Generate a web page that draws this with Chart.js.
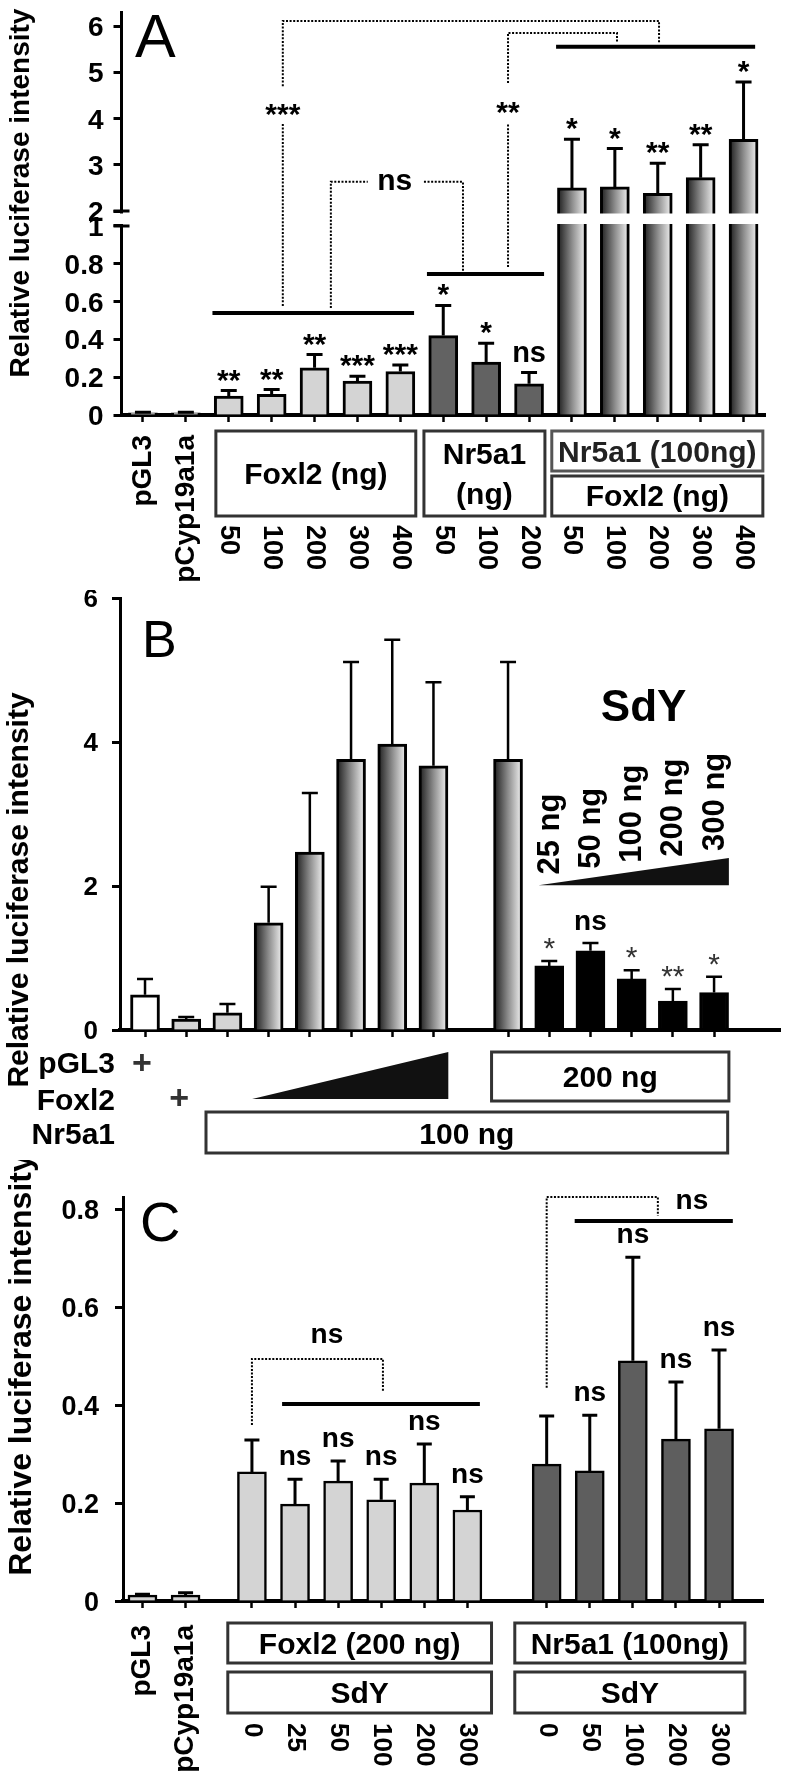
<!DOCTYPE html>
<html>
<head>
<meta charset="utf-8">
<title>Cyp19a1a promoter luciferase assays</title>
<script src="https://cdn.jsdelivr.net/npm/chart.js@4.4.1/dist/chart.umd.min.js"></script>
<style>
  body { margin: 0; background: #fff; }
  #fig { position: relative; width: 785px; height: 1785px; overflow: hidden; }
  #fig canvas { position: absolute; left: 0; }
</style>
</head>
<body>
<div id="fig">
  <canvas id="panelA" width="785" height="600" style="top:0"></canvas>
  <canvas id="panelB" width="785" height="570" style="top:590px"></canvas>
  <canvas id="panelC" width="785" height="625" style="top:1160px"></canvas>
</div>
<script>
// ---- Panel A: Foxl2 / Nr5a1 dose response ----
const aCtrlLabels = ['pGL3', 'pCyp19a1a'];
const aCtrlMean = [0.012, 0.012];
const aCtrlSem = [0.003, 0.003];

const aFoxl2Doses = ['50', '100', '200', '300', '400'];
const aFoxl2Mean = [0.10, 0.11, 0.25, 0.18, 0.23];
const aFoxl2Sem = [0.03, 0.025, 0.07, 0.025, 0.035];
const aFoxl2Sig = ['**', '**', '**', '***', '***'];

const aNr5a1Doses = ['50', '100', '200'];
const aNr5a1Mean = [0.42, 0.28, 0.165];
const aNr5a1Sem = [0.16, 0.10, 0.06];
const aNr5a1Sig = ['*', '*', 'ns'];

const aComboDoses = ['50', '100', '200', '300', '400'];
const aComboMean = [2.50, 2.52, 2.38, 2.72, 3.55];
const aComboSem = [1.05, 0.83, 0.65, 0.71, 1.24];
const aComboSig = ['*', '*', '**', '**', '*'];

const aYTicks = [0, 0.2, 0.4, 0.6, 0.8, 1, 2, 3, 4, 5, 6];
const aYTickLabels = ['0', '0.2', '0.4', '0.6', '0.8', '1', '2', '3', '4', '5', '6'];

// ---- Panel B: SdY titration ----
const bCtrlMean = [0.49, 0.15, 0.24];      // pGL3, Foxl2, Nr5a1
const bCtrlSem = [0.22, 0.03, 0.12];
const bRampMean = [1.49, 2.47, 3.76, 3.97, 3.67];
const bRampSem = [0.50, 0.82, 1.35, 1.45, 1.16];
const bFixedMean = [3.76];
const bFixedSem = [1.35];
const bSdyDoses = ['25 ng', '50 ng', '100 ng', '200 ng', '300 ng'];
const bSdyMean = [0.89, 1.10, 0.71, 0.40, 0.52];
const bSdySem = [0.07, 0.11, 0.12, 0.17, 0.22];
const bSdySig = ['*', 'ns', '*', '**', '*'];
const bYTicks = [0, 2, 4, 6];

// ---- Panel C: SdY with Foxl2 or Nr5a1 alone ----
const cCtrlLabels = ['pGL3', 'pCyp19a1a'];
const cCtrlMean = [0.012, 0.012];
const cCtrlSem = [0.002, 0.005];
const cFoxl2Doses = ['0', '25', '50', '100', '200', '300'];
const cFoxl2Mean = [0.264, 0.198, 0.245, 0.207, 0.241, 0.186];
const cFoxl2Sem = [0.065, 0.051, 0.041, 0.042, 0.080, 0.027];
const cFoxl2Sig = ['', 'ns', 'ns', 'ns', 'ns', 'ns'];
const cNr5a1Doses = ['0', '50', '100', '200', '300'];
const cNr5a1Mean = [0.280, 0.266, 0.491, 0.331, 0.352];
const cNr5a1Sem = [0.098, 0.114, 0.212, 0.117, 0.161];
const cNr5a1Sig = ['', 'ns', 'ns', 'ns', 'ns'];
const cYTicks = [0, 0.2, 0.4, 0.6, 0.8];
const cYTickLabels = ['0', '0.2', '0.4', '0.6', '0.8'];

// ---- styling ----
const FONT = '"Liberation Sans", Arial, Helvetica, sans-serif';
const LIGHT = '#d4d4d4';
const DARK = '#626262';
Chart.defaults.font.family = FONT;

// broken axis in panel A: 0-1 full size, 2-6 compressed above a gap
const aGap = 15 / 189;
const aUpper = 46.25 / 189;
const aY = v => (v <= 1 ? v : 1 + aGap + (v - 2) * aUpper);
const same = v => v;

function font(size, weight) {
  return (weight || 'bold') + ' ' + size + 'px ' + FONT;
}

// text centred on its visible glyphs
function text(ctx, str, x, cy, size, opts = {}) {
  ctx.save();
  ctx.font = font(size, opts.weight);
  ctx.fillStyle = opts.color || '#000';
  ctx.textAlign = opts.align || 'center';
  ctx.textBaseline = 'alphabetic';
  let lift = 0.36;
  if (/^\*+$/.test(str)) lift = 0.57;
  else if (/^[a-z]+$/.test(str)) lift = 0.26;
  ctx.fillText(str, x, cy + lift * size);
  ctx.restore();
}

// rotated text; dir -1 reads upwards, +1 reads downwards
function vtext(ctx, str, x, y, size, dir, align, weight) {
  ctx.save();
  ctx.translate(x, y);
  ctx.rotate(dir * Math.PI / 2);
  ctx.font = font(size, weight);
  ctx.fillStyle = '#000';
  ctx.textAlign = align;
  ctx.textBaseline = 'middle';
  ctx.fillText(str, 0, 0);
  ctx.restore();
}

function line(ctx, pts, lw, dotted) {
  ctx.save();
  ctx.lineWidth = lw;
  ctx.strokeStyle = '#000';
  ctx.setLineDash(dotted ? [2, 1.6] : []);
  ctx.beginPath();
  pts.forEach((p, i) => (i ? ctx.lineTo(p[0], p[1]) : ctx.moveTo(p[0], p[1])));
  ctx.stroke();
  ctx.restore();
}

function box(ctx, x1, y1, x2, y2, color) {
  ctx.save();
  ctx.lineWidth = 3;
  ctx.strokeStyle = color || '#333';
  ctx.strokeRect(x1, y1, x2 - x1, y2 - y1);
  ctx.restore();
}

function tri(ctx, pts) {
  ctx.save();
  ctx.fillStyle = '#111';
  ctx.beginPath();
  pts.forEach((p, i) => (i ? ctx.lineTo(p[0], p[1]) : ctx.moveTo(p[0], p[1])));
  ctx.closePath();
  ctx.fill();
  ctx.restore();
}

// groups side by side on a linear x axis, extra gap (in bar slots) before a group
function lay(groups) {
  const bars = [];
  let x = 0;
  groups.forEach(g => {
    x += g.gap || 0;
    g.mean.forEach((m, i) => {
      bars.push({
        x: x, mean: m, sem: g.sem[i],
        sig: g.sig ? g.sig[i] : '',
        fill: Array.isArray(g.fill) ? g.fill[i] : g.fill,
        group: g.name
      });
      x += 1;
    });
  });
  return bars;
}

function gradient(c, b) {
  const chart = c.chart;
  if (!chart.chartArea) return '#999';
  const cx = chart.scales.x.getPixelForValue(b.x);
  const g = chart.ctx.createLinearGradient(cx - 13, 0, cx + 13, 0);
  g.addColorStop(0, '#262626');
  g.addColorStop(0.5, '#8c8c8c');
  g.addColorStop(1, '#ebebeb');
  return g;
}

function errorBars(chart, bars, fy, lw, cap) {
  const ctx = chart.ctx;
  const meta = chart.getDatasetMeta(0);
  const Y = chart.scales.y;
  ctx.save();
  ctx.strokeStyle = '#000';
  ctx.lineWidth = lw;
  bars.forEach((b, i) => {
    const x = meta.data[i].x;
    const top = Y.getPixelForValue(fy(b.mean));
    const end = Y.getPixelForValue(fy(b.mean + b.sem));
    ctx.beginPath();
    ctx.moveTo(x, top);
    ctx.lineTo(x, end);
    ctx.moveTo(x - cap / 2, end);
    ctx.lineTo(x + cap / 2, end);
    ctx.stroke();
  });
  ctx.restore();
}

function barChart(id, cfg) {
  const canvas = document.getElementById(id);
  const bars = cfg.bars;
  const fy = cfg.fy || same;
  const area = cfg.area;
  return new Chart(canvas, {
    type: 'bar',
    data: {
      datasets: [{
        data: bars.map(b => ({ x: b.x, y: fy(b.mean) })),
        backgroundColor: c => {
          const b = bars[c.dataIndex];
          if (!b) return LIGHT;
          return b.fill === 'gradient' ? gradient(c, b) : b.fill;
        },
        borderColor: '#000',
        borderWidth: cfg.barBorder,
        barThickness: 29
      }]
    },
    options: {
      responsive: false,
      maintainAspectRatio: false,
      animation: false,
      devicePixelRatio: 1,
      layout: { padding: { top: area.top, right: canvas.width - area.right, left: 0, bottom: 0 } },
      plugins: { legend: { display: false }, tooltip: { enabled: false } },
      scales: {
        x: {
          type: 'linear',
          min: cfg.xMin,
          max: cfg.xMax,
          offset: false,
          z: 1,
          afterBuildTicks: s => { s.ticks = bars.map(b => ({ value: b.x })); },
          afterFit: s => { s.height = canvas.height - area.bottom; },
          ticks: { display: false },
          grid: { offset: false, drawOnChartArea: false, drawTicks: true, tickLength: 7, tickWidth: 2.5, tickColor: '#000' },
          border: { display: true, color: '#000', width: 4 }
        },
        y: {
          min: 0,
          max: cfg.yMax,
          afterBuildTicks: s => { s.ticks = cfg.yTicks.map(v => ({ value: fy(v) })); },
          afterFit: s => { s.width = area.left; },
          ticks: { display: false },
          grid: { drawOnChartArea: false, drawTicks: true, tickLength: 8, tickWidth: 3, tickColor: '#000' },
          border: { display: true, color: '#000', width: 3 }
        }
      }
    },
    plugins: [{ id: 'decor', afterDraw: chart => cfg.draw(chart, bars) }]
  });
}

// ---------------- Panel A ----------------
const barsA = lay([
  { name: 'ctrl', mean: aCtrlMean, sem: aCtrlSem, fill: LIGHT },
  { name: 'foxl2', mean: aFoxl2Mean, sem: aFoxl2Sem, sig: aFoxl2Sig, fill: LIGHT },
  { name: 'nr5a1', mean: aNr5a1Mean, sem: aNr5a1Sem, sig: aNr5a1Sig, fill: DARK },
  { name: 'combo', mean: aComboMean, sem: aComboSem, sig: aComboSig, fill: 'gradient' }
]);

barChart('panelA', {
  bars: barsA, fy: aY, yMax: 403 / 189, yTicks: aYTicks,
  xMin: -0.5, xMax: 14.5,
  area: { left: 121.5, top: 12, right: 765, bottom: 415 },
  barBorder: 3,
  draw: (chart, bars) => {
    const ctx = chart.ctx;
    const { left: L, right: R, bottom: B } = chart.chartArea;
    const px = s => chart.scales.x.getPixelForValue(s);
    const py = v => chart.scales.y.getPixelForValue(aY(v));

    // axis break
    const y1 = py(1), y2 = py(2);
    ctx.fillStyle = '#fff';
    ctx.fillRect(L - 4, y2 + 2.5, R - L + 12, y1 - y2 - 4.5);
    line(ctx, [[L - 8, y1], [L + 8, y1]], 3);
    line(ctx, [[L - 8, y2], [L + 8, y2]], 3);

    aYTicks.forEach((v, i) => text(ctx, aYTickLabels[i], L - 18, py(v), 28, { align: 'right' }));
    vtext(ctx, 'Relative luciferase intensity', 21, 193, 28, -1, 'center');
    ctx.font = font(61, 'normal');
    ctx.fillStyle = '#000';
    ctx.textAlign = 'left';
    ctx.textBaseline = 'alphabetic';
    ctx.fillText('A', 135, 57);

    errorBars(chart, bars, aY, 3, 16);
    bars.forEach(b => {
      if (b.sig) text(ctx, b.sig, px(b.x), py(b.mean + b.sem) - 18, b.sig === 'ns' ? 29 : 30);
    });

    // group bars and comparisons
    line(ctx, [[px(1.62), py(0.54)], [px(6.32), py(0.54)]], 4);
    line(ctx, [[px(6.62), py(0.746)], [px(9.35), py(0.746)]], 4);
    line(ctx, [[px(9.63), py(5.55)], [px(14.27), py(5.55)]], 4);
    const dot = pts => line(ctx, pts.map(([s, v]) => [px(s), py(v)]), 2, true);
    dot([[3.26, 0.577], [3.26, 3.92]]);
    text(ctx, '***', px(3.26), py(4.25), 30);
    dot([[3.26, 4.70], [3.26, 6.11], [12.03, 6.11], [12.03, 5.63]]);
    dot([[4.38, 0.566], [4.38, 2.63], [5.24, 2.63]]);
    text(ctx, 'ns', px(5.87), py(2.63), 30);
    dot([[6.55, 2.63], [7.46, 2.63], [7.46, 0.757]]);
    dot([[8.51, 0.783], [8.51, 3.90]]);
    text(ctx, '**', px(8.51), py(4.29), 30);
    dot([[8.51, 4.77], [8.51, 5.85], [11.05, 5.85], [11.05, 5.63]]);

    // x labels
    aCtrlLabels.forEach((t, i) => vtext(ctx, t, px(bars[i].x), B + 20, 28, -1, 'right'));
    const doses = aFoxl2Doses.concat(aNr5a1Doses, aComboDoses);
    doses.forEach((t, i) => vtext(ctx, t, px(bars[i + 2].x), B + 110, 27, 1, 'left'));

    let x1 = px(1.70), x2 = px(6.36);
    box(ctx, x1, B + 16, x2, B + 101);
    text(ctx, 'Foxl2 (ng)', (x1 + x2) / 2, B + 58, 30);
    x1 = px(6.55); x2 = px(9.37);
    box(ctx, x1, B + 16, x2, B + 101);
    text(ctx, 'Nr5a1', (x1 + x2) / 2, B + 38, 30);
    text(ctx, '(ng)', (x1 + x2) / 2, B + 78, 30);
    x1 = px(9.53); x2 = px(14.45);
    box(ctx, x1, B + 16, x2, B + 56, '#555');
    text(ctx, 'Nr5a1 (100ng)', (x1 + x2) / 2, B + 36, 30, { color: '#222' });
    box(ctx, x1, B + 61, x2, B + 101);
    text(ctx, 'Foxl2 (ng)', (x1 + x2) / 2, B + 80, 30);
  }
});

// ---------------- Panel B ----------------
const barsB = lay([
  { name: 'ctrl', mean: bCtrlMean, sem: bCtrlSem, fill: ['#fff', LIGHT, LIGHT] },
  { name: 'ramp', mean: bRampMean, sem: bRampSem, fill: 'gradient' },
  { name: 'fixed', gap: 0.81, mean: bFixedMean, sem: bFixedSem, fill: 'gradient' },
  { name: 'sdy', mean: bSdyMean, sem: bSdySem, sig: bSdySig, fill: '#000' }
]);

barChart('panelB', {
  bars: barsB, yMax: 6, yTicks: bYTicks,
  xMin: -0.607, xMax: 15.41,
  area: { left: 120, top: 8, right: 780, bottom: 440 },
  barBorder: 3,
  draw: (chart, bars) => {
    const ctx = chart.ctx;
    const { left: L, bottom: B } = chart.chartArea;
    const px = s => chart.scales.x.getPixelForValue(s);
    const py = v => chart.scales.y.getPixelForValue(v);

    bYTicks.forEach(v => text(ctx, String(v), L - 22, py(v), 26, { align: 'right' }));
    vtext(ctx, 'Relative luciferase intensity', 20, 300, 30, -1, 'center');
    ctx.font = font(52, 'normal');
    ctx.fillStyle = '#000';
    ctx.textAlign = 'left';
    ctx.textBaseline = 'alphabetic';
    ctx.fillText('B', 142, 67);

    errorBars(chart, bars, same, 2.5, 16);
    bars.forEach(b => {
      if (!b.sig) return;
      const y = py(b.mean + b.sem) - 20;
      if (b.sig === 'ns') text(ctx, 'ns', px(b.x), y, 28);
      else text(ctx, b.sig, px(b.x), y, 30, { weight: 'normal', color: '#333' });
    });

    // SdY inset
    const sdy = bars.filter(b => b.group === 'sdy');
    text(ctx, 'SdY', px(12.1), py(4.51), 44);
    const tx0 = px(9.55), tx1 = px(14.17), tyB = py(2.01), tyT = py(2.39);
    tri(ctx, [[tx0, tyB], [tx1, tyB], [tx1, tyT]]);
    sdy.forEach((b, i) => {
      const x = px(b.x) + 1;
      const edge = tyB - (tyB - tyT) * (x - tx0) / (tx1 - tx0);
      vtext(ctx, bSdyDoses[i], x, edge - 9, 31, -1, 'left');
    });

    // treatment table under the axis
    text(ctx, 'pGL3', 115, B + 32, 30, { align: 'right' });
    text(ctx, 'Foxl2', 115, B + 69, 30, { align: 'right' });
    text(ctx, 'Nr5a1', 115, B + 103, 30, { align: 'right' });
    text(ctx, '+', px(bars[0].x) - 3, B + 32, 34, { color: '#333' });
    text(ctx, '+', px(bars[1].x) - 7, B + 67, 34, { color: '#333' });
    tri(ctx, [[px(2.6), B + 69], [px(7.36), B + 69], [px(7.36), B + 22]]);
    let x1 = px(8.41), x2 = px(14.17);
    box(ctx, x1, B + 22, x2, B + 71);
    text(ctx, '200 ng', (x1 + x2) / 2, B + 46, 30);
    x1 = px(1.48); x2 = px(14.14);
    box(ctx, x1, B + 82, x2, B + 123);
    text(ctx, '100 ng', (x1 + x2) / 2, B + 103, 30);
  }
});

// ---------------- Panel C ----------------
const barsC = lay([
  { name: 'ctrl', mean: cCtrlMean, sem: cCtrlSem, fill: LIGHT },
  { name: 'foxl2', gap: 0.54, mean: cFoxl2Mean, sem: cFoxl2Sem, sig: cFoxl2Sig, fill: LIGHT },
  { name: 'nr5a1', gap: 0.84, mean: cNr5a1Mean, sem: cNr5a1Sem, sig: cNr5a1Sig, fill: '#5e5e5e' }
]);

barChart('panelC', {
  bars: barsC, yMax: 0.826, yTicks: cYTicks,
  xMin: -0.452, xMax: 14.40,
  area: { left: 123, top: 37, right: 763, bottom: 441 },
  barBorder: 2.5,
  draw: (chart, bars) => {
    const ctx = chart.ctx;
    const { left: L, bottom: B } = chart.chartArea;
    const px = s => chart.scales.x.getPixelForValue(s);
    const py = v => chart.scales.y.getPixelForValue(v);

    cYTicks.forEach((v, i) => text(ctx, cYTickLabels[i], L - 24, py(v), 27, { align: 'right' }));
    vtext(ctx, 'Relative luciferase intensity', 22, 205, 32, -1, 'center');
    ctx.font = font(56, 'normal');
    ctx.fillStyle = '#000';
    ctx.textAlign = 'left';
    ctx.textBaseline = 'alphabetic';
    ctx.fillText('C', 140, 81);

    errorBars(chart, bars, same, 3, 15);
    bars.forEach(b => {
      if (b.sig) text(ctx, b.sig, px(b.x), py(b.mean + b.sem) - 21, 28);
    });

    const dot = pts => line(ctx, pts.map(([s, v]) => [px(s), py(v)]), 2, true);
    line(ctx, [[px(3.24), py(0.403)], [px(7.83), py(0.403)]], 4);
    dot([[2.54, 0.36], [2.54, 0.495], [5.58, 0.495], [5.58, 0.429]]);
    text(ctx, 'ns', px(4.28), py(0.542), 28);
    line(ctx, [[px(10.03), py(0.777)], [px(13.7), py(0.777)]], 4);
    dot([[9.38, 0.436], [9.38, 0.826], [11.96, 0.826], [11.96, 0.787]]);
    text(ctx, 'ns', px(12.75), py(0.816), 28);

    cCtrlLabels.forEach((t, i) => vtext(ctx, t, px(bars[i].x), B + 24, 28, -1, 'right'));
    const doses = cFoxl2Doses.concat(cNr5a1Doses);
    doses.forEach((t, i) => vtext(ctx, t, px(bars[i + 2].x), B + 122, 26, 1, 'left'));

    let x1 = px(1.98), x2 = px(8.10);
    box(ctx, x1, B + 22, x2, B + 62);
    text(ctx, 'Foxl2 (200 ng)', (x1 + x2) / 2, B + 42, 30);
    box(ctx, x1, B + 71, x2, B + 112);
    text(ctx, 'SdY', (x1 + x2) / 2, B + 91, 30);
    x1 = px(8.64); x2 = px(13.98);
    box(ctx, x1, B + 22, x2, B + 62);
    text(ctx, 'Nr5a1 (100ng)', (x1 + x2) / 2, B + 42, 30);
    box(ctx, x1, B + 71, x2, B + 112);
    text(ctx, 'SdY', (x1 + x2) / 2, B + 91, 30);
  }
});
</script>
</body>
</html>
